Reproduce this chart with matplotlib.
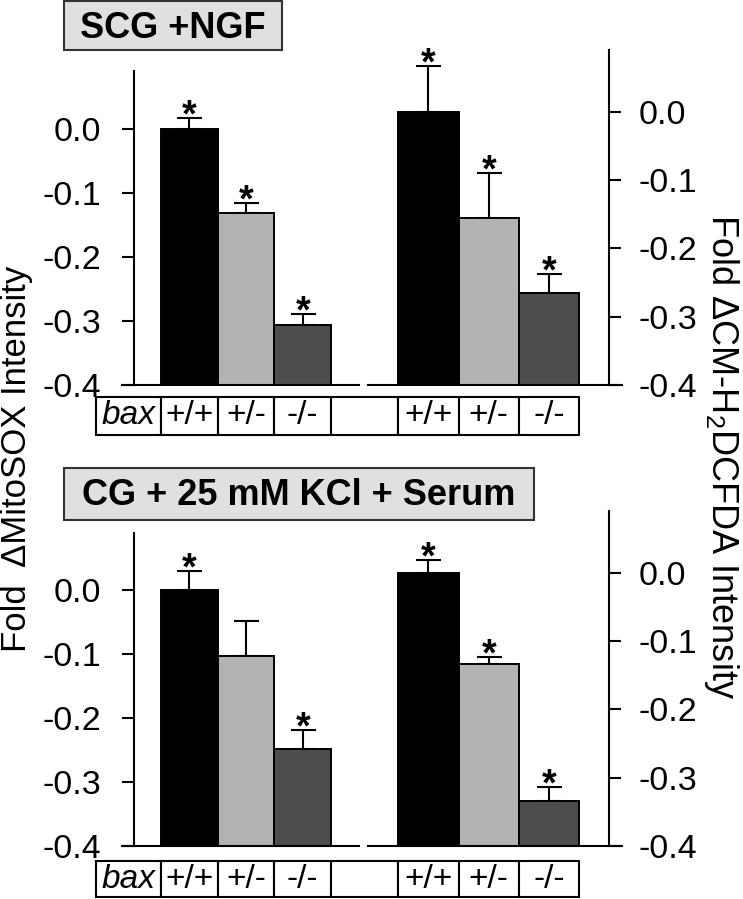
import matplotlib

matplotlib.use("Agg")
import matplotlib.pyplot as plt
import numpy as np
from matplotlib.patches import Rectangle

plt.rcParams["font.family"] = ["Liberation Sans", "DejaVu Sans"]
plt.rcParams["mathtext.fontset"] = "custom"
plt.rcParams["mathtext.rm"] = "Liberation Sans"

W, H = 743, 899

genotypes = ["+/+", "+/-", "-/-"]
bar_colors = ["#000000", "#b3b3b3", "#4d4d4d"]
yticks = [0.0, -0.1, -0.2, -0.3, -0.4]
ytick_labels = ["0.0", "-0.1", "-0.2", "-0.3", "-0.4"]
panel_titles = ["SCG +NGF", "CG + 25 mM KCl + Serum"]

# SCG + NGF
mitosox_ngf = [0.0, -0.132, -0.306]
mitosox_ngf_err = [0.017, 0.016, 0.017]
mitosox_ngf_sig = [True, True, True]
dcf_ngf = [0.0, -0.155, -0.266]
dcf_ngf_err = [0.066, 0.065, 0.028]
dcf_ngf_sig = [True, True, True]

# CG + KCl + serum
mitosox_kcl = [0.0, -0.103, -0.248]
mitosox_kcl_err = [0.030, 0.055, 0.029]
mitosox_kcl_sig = [True, False, True]
dcf_kcl = [0.0, -0.134, -0.334]
dcf_kcl_err = [0.018, 0.011, 0.020]
dcf_kcl_sig = [True, True, True]

BASE = -0.4
YTOP = 0.09


def px_axes(fig, left, top, right, bottom):
    return fig.add_axes([left / W, 1 - bottom / H, (right - left) / W, (bottom - top) / H])


def draw_group(ax, vals, errs, sig, side, xlim, spine_frac):
    x = np.arange(len(vals))
    vals = np.asarray(vals)
    ax.bar(x, vals - BASE, bottom=BASE, width=1.0, color=bar_colors,
           edgecolor="black", linewidth=1.4, zorder=2)
    ax.errorbar(x, vals, yerr=[np.zeros(len(vals)), errs], fmt="none", ecolor="black",
                elinewidth=1.5, capsize=9, capthick=1.5, zorder=1)
    for xi, v, e, s in zip(x, vals, errs, sig):
        if s:
            ax.annotate("*", (xi, v + e), xytext=(0, -6), textcoords="offset points",
                        ha="center", va="baseline", fontsize=27, fontweight="bold",
                        annotation_clip=False)
    ax.set_xlim(*xlim)
    ax.set_ylim(BASE, YTOP)
    ax.set_xticks([])
    ax.set_yticks(yticks, labels=ytick_labels)
    ax.patch.set_visible(False)
    ax.spines["top"].set_visible(False)
    other = "right" if side == "left" else "left"
    ax.spines[other].set_visible(False)
    ax.spines[side].set_position(("axes", spine_frac))
    for sp in ("bottom", side):
        ax.spines[sp].set_linewidth(1.5)
    if side == "right":
        ax.yaxis.tick_right()
        pad = 13
    else:
        pad = 15
    ax.tick_params(axis="y", direction="out", length=8.6, width=1.5, labelsize=24.5, pad=pad)


fig = plt.figure(figsize=(W / 100, H / 100), dpi=100)
fig.patch.set_facecolor("white")

panels = [
    (mitosox_ngf, mitosox_ngf_err, mitosox_ngf_sig, dcf_ngf, dcf_ngf_err, dcf_ngf_sig,
     71, 50, 385, 397.3, 435),
    (mitosox_kcl, mitosox_kcl_err, mitosox_kcl_sig, dcf_kcl, dcf_kcl_err, dcf_kcl_sig,
     532.7, 511, 846.3, 860.7, 897.3),
]

overlay = fig.add_axes([0, 0, 1, 1], zorder=5)
overlay.set_xlim(0, W)
overlay.set_ylim(H, 0)
overlay.axis("off")

title_boxes = [(64, 1, 282, 50, 38), (64, 468, 534, 520, 505)]

for (lv, le, ls, rv, re_, rs, ltop, rtop, base_px, t_top, t_bot), title, box in zip(
        panels, panel_titles, title_boxes):
    axl = px_axes(fig, 122, ltop, 359, base_px)
    draw_group(axl, lv, le, ls, "left", (-1.188, 2.994), 12 / 237)
    axr = px_axes(fig, 368, rtop, 622, base_px)
    draw_group(axr, rv, re_, rs, "right", (-1.003, 3.214), 241 / 254)

    # genotype table aligned to bar edges
    edges_l = [axl.transData.transform((e, BASE))[0] for e in (-0.5, 0.5, 1.5, 2.5)]
    edges_r = [axr.transData.transform((e, BASE))[0] for e in (-0.5, 0.5, 1.5, 2.5)]
    edges = [96] + edges_l + edges_r
    cells = ["bax"] + genotypes + [""] + genotypes
    for i, label in enumerate(cells):
        x0, x1 = edges[i], edges[i + 1]
        overlay.add_patch(Rectangle((x0, t_top), x1 - x0, t_bot - t_top, facecolor="white",
                                    edgecolor="black", linewidth=1.5))
        if label:
            overlay.text((x0 + x1) / 2, t_top + 27, label, ha="center", va="baseline",
                         fontsize=24, fontstyle="italic" if label == "bax" else "normal")

    bx0, by0, bx1, by1, tb = box
    overlay.add_patch(Rectangle((bx0, by0), bx1 - bx0, by1 - by0, facecolor="#e0e0e0",
                                edgecolor="#333333", linewidth=1.5))
    overlay.text((bx0 + bx1) / 2, tb, title, ha="center", va="baseline", fontsize=26,
                 fontweight="bold")

overlay.text(17, 459, "Fold  \u0394MitoSOX Intensity", rotation=90, ha="center", va="center",
             fontsize=25)
overlay.text(722, 457, "Fold \u0394CM-H$_{\\mathregular{2}}$DCFDA Intensity", rotation=270,
             ha="center", va="center", fontsize=26)

fig.savefig("out.png", dpi=100, facecolor="white")
